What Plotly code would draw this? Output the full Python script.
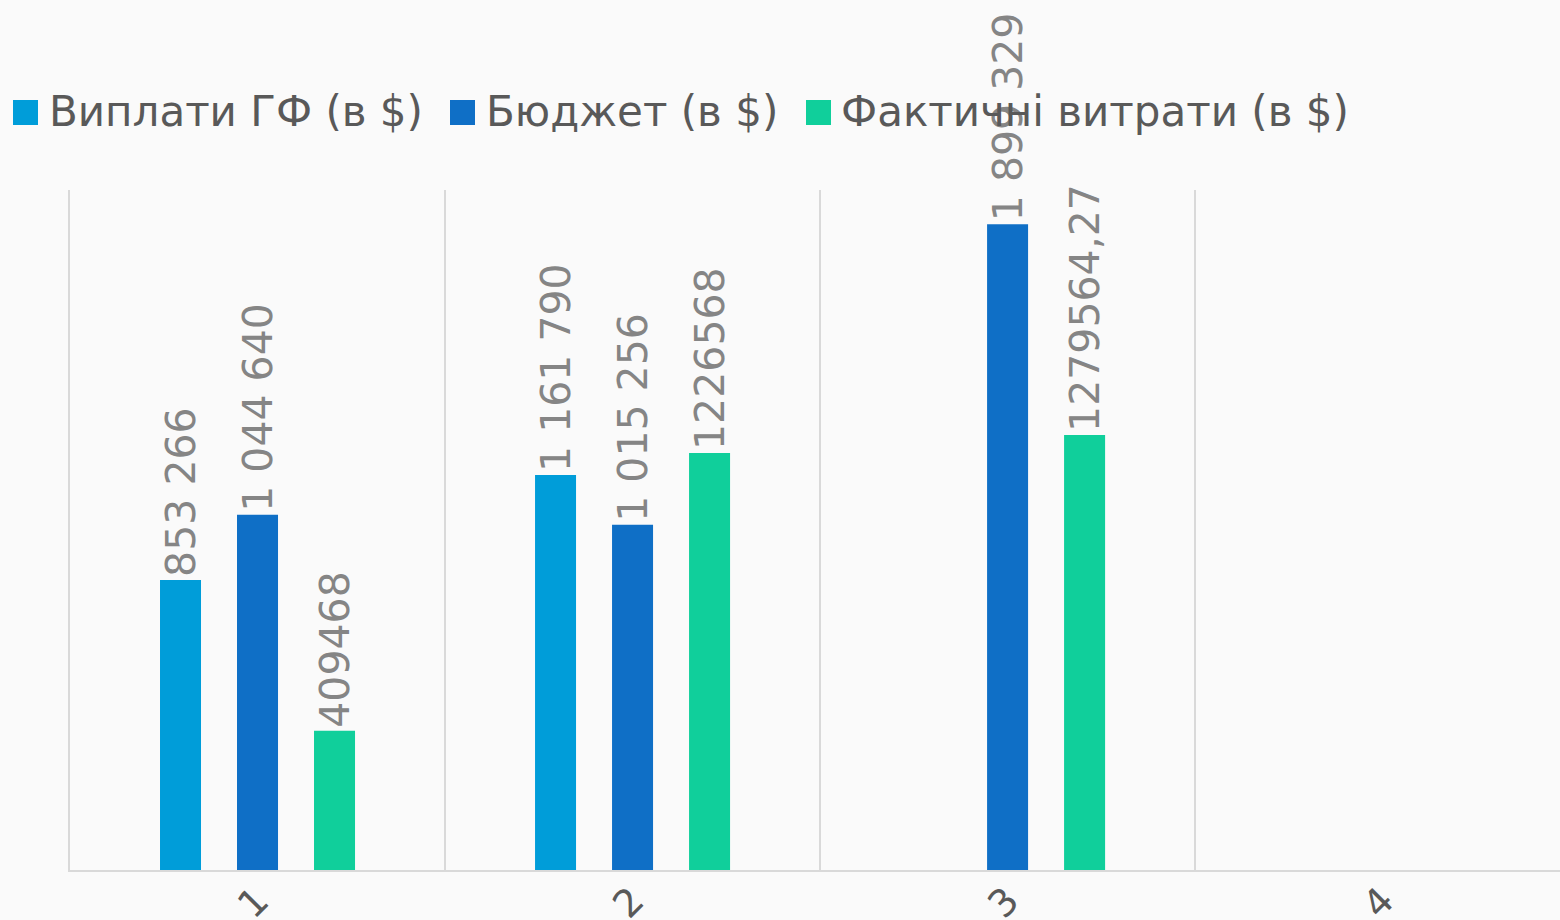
import plotly.graph_objects as go

# ---- data ----
categories = ["1", "2", "3", "4"]
series_names = ["Виплати ГФ (в $)", "Бюджет (в $)", "Фактичні витрати (в $)"]
payments = [853266, 1161790, None, None]
budget = [1044640, 1015256, 1899329, None]
actual = [409468, 1226568, 1279564.27, None]
payments_labels = ["853 266", "1 161 790", "", ""]
budget_labels = ["1 044 640", "1 015 256", "1 899 329", ""]
actual_labels = ["409468", "1226568", "1279564,27", ""]

colors = ["#009DD9", "#0F6FC6", "#10CF9B"]

W, H = 1560, 920
ML, MR, MT, MB = 70, 0, 190, 50
PW = W - ML - MR
PH = H - MT - MB

FONT = "DejaVu Sans"

fig = go.Figure()
for name, vals, labels, col in zip(series_names,
                                   [payments, budget, actual],
                                   [payments_labels, budget_labels, actual_labels],
                                   colors):
    fig.add_trace(go.Bar(
        x=categories, y=vals, name=name, marker=dict(color=col, line=dict(width=0)),
        text=labels, textposition="outside", textangle=-90,
        textfont=dict(family=FONT, size=41, color="#858585"),
        constraintext="none", cliponaxis=False, showlegend=False,
    ))

def px_to_paper_x(px):
    return (px - ML) / PW

def px_to_paper_y(py):
    return (H - MB - py) / PH

# manual legend (large squares like the original)
legend_sq_x = [13, 450, 806]
legend_txt_x = [47, 484, 839]
sq_top, sq_bot = 100, 125
shapes = []
annotations = []
for name, col, sx, tx in zip(series_names, colors, legend_sq_x, legend_txt_x):
    shapes.append(dict(type="rect", xref="paper", yref="paper",
                       x0=px_to_paper_x(sx), x1=px_to_paper_x(sx + 25),
                       y0=px_to_paper_y(sq_bot), y1=px_to_paper_y(sq_top),
                       fillcolor=col, line=dict(width=0)))
    annotations.append(dict(xref="paper", yref="paper", x=px_to_paper_x(tx),
                            y=px_to_paper_y(112), xanchor="left", yanchor="middle",
                            text=name, showarrow=False,
                            font=dict(family=FONT, size=42, color="#595959")))

fig.update_layout(
    width=W, height=H,
    margin=dict(l=ML, r=MR, t=MT, b=MB, pad=0, autoexpand=False),
    paper_bgcolor="#fafafa", plot_bgcolor="#fafafa",
    barmode="group", bargap=0.384, bargroupgap=0.4675,
    showlegend=False,
    shapes=shapes, annotations=annotations,
    font=dict(family=FONT),
)
fig.update_xaxes(
    type="category", categoryorder="array", categoryarray=categories,
    range=[-0.5, 3.473], tickson="boundaries", automargin=False,
    showgrid=True, gridcolor="#d9d9d9", gridwidth=2,
    showline=True, linecolor="#d9d9d9", linewidth=2,
    ticks="", tickangle=-45, ticklabelstandoff=-9,
    tickfont=dict(family=FONT, size=38, color="#595959"),
    fixedrange=True,
)
fig.update_yaxes(
    range=[0, 2000000], showgrid=False, zeroline=False, automargin=False,
    showticklabels=False, ticks="",
    showline=True, linecolor="#d9d9d9", linewidth=2,
    fixedrange=True,
)

fig.write_html(
    "out.html",
    config={"displayModeBar": False},
    post_script="document.body.style.margin='0';document.body.style.overflow='hidden';",
)
